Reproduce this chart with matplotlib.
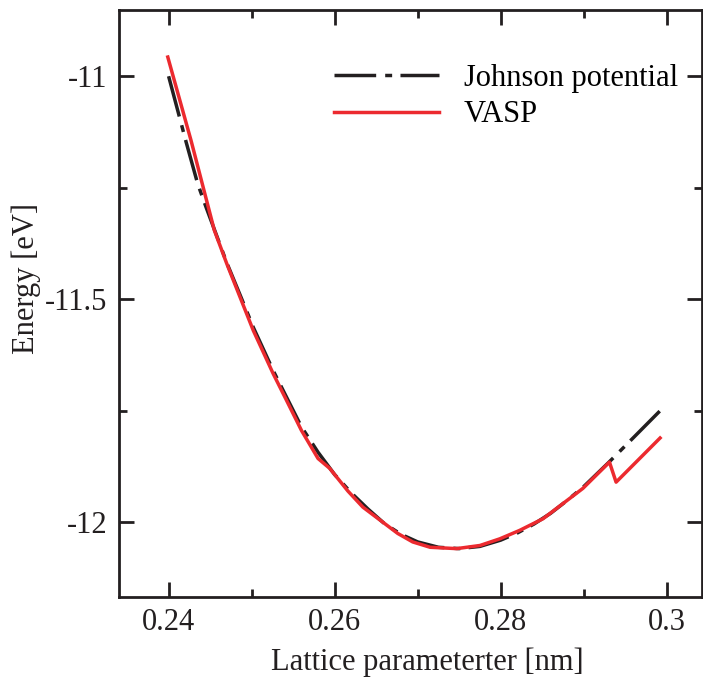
import matplotlib
matplotlib.use("Agg")
import matplotlib.pyplot as plt
from matplotlib.ticker import MultipleLocator

plt.rcParams['font.family'] = ['Liberation Serif', 'DejaVu Serif']

# Johnson potential (black dash-dot)
x_johnson = [0.2400, 0.2413, 0.2421, 0.2435, 0.2445, 0.2470, 0.2486, 0.2502, 0.2526,
             0.2540, 0.2560, 0.2580, 0.2600, 0.2620, 0.2640, 0.2660, 0.2680, 0.2700,
             0.2725, 0.2750, 0.2775, 0.2800, 0.2820, 0.2840, 0.2860, 0.2880, 0.2900,
             0.2930, 0.2960, 0.2992]
e_johnson = [-11.000, -11.091, -11.147, -11.241, -11.293, -11.418, -11.490, -11.563, -11.660,
             -11.712, -11.786, -11.843, -11.893, -11.934, -11.970, -12.003, -12.027, -12.044,
             -12.056, -12.059, -12.054, -12.040, -12.024, -12.004, -11.980, -11.951, -11.920,
             -11.866, -11.810, -11.750]

# VASP (red)
x_vasp = [0.2399, 0.2427, 0.2455, 0.2470, 0.2486, 0.2502, 0.2526, 0.2540, 0.2560, 0.2580,
          0.2594, 0.2616, 0.2634, 0.2676, 0.2694, 0.2715, 0.2747, 0.2775, 0.2799, 0.2823,
          0.2851, 0.2875, 0.2899, 0.2931, 0.2939, 0.2992]
e_vasp = [-10.957, -11.144, -11.345, -11.420, -11.495, -11.570, -11.667, -11.719, -11.794, -11.857,
          -11.879, -11.930, -11.966, -12.025, -12.044, -12.056, -12.059, -12.052, -12.037, -12.018,
          -11.992, -11.958, -11.924, -11.865, -11.910, -11.811]

fig = plt.figure(figsize=(7.03, 6.81), dpi=100)
ax = fig.add_axes([0.169, 0.123, 0.829, 0.862])

black = '#231f20'
red = '#ec2a2f'
ax.plot(x_johnson, e_johnson, color=black, lw=2.5, dashes=(12, 2.6, 2, 2.4),
        label='Johnson potential')
ax.plot(x_vasp, e_vasp, color=red, lw=2.5, label='VASP')

ax.set_xlim(0.234, 0.3042)
ax.set_ylim(-12.168, -10.852)
ax.xaxis.set_minor_locator(MultipleLocator(0.01))
ax.yaxis.set_minor_locator(MultipleLocator(0.25))
ax.set_xticks([0.24, 0.26, 0.28, 0.30])
ax.set_xticklabels(['0.24', '0.26', '0.28', '0.3'])
ax.set_yticks([-12, -11.5, -11])
ax.set_yticklabels(['-12', '-11.5', '-11'])

ax.tick_params(which='both', direction='in', top=True, right=True, width=2, colors=black,
               labelsize=22, labelcolor=black)
ax.tick_params(which='major', length=11, pad=8)
ax.tick_params(which='minor', length=6)
for s in ax.spines.values():
    s.set_linewidth(2)
    s.set_color(black)

ax.set_xlabel('Lattice parameterter [nm]', fontsize=22, color=black, labelpad=7)
ax.set_ylabel('Energy [eV]', fontsize=22, color=black, labelpad=3)
ax.xaxis.label.set_x(0.53)
ax.yaxis.label.set_y(0.543)

ax.legend(loc='upper left', bbox_to_anchor=(0.343, 0.935), frameon=False, fontsize=22,
          handlelength=3.45, handletextpad=0.8, borderpad=0, labelspacing=0.25)

fig.savefig('out.png', dpi=100)
